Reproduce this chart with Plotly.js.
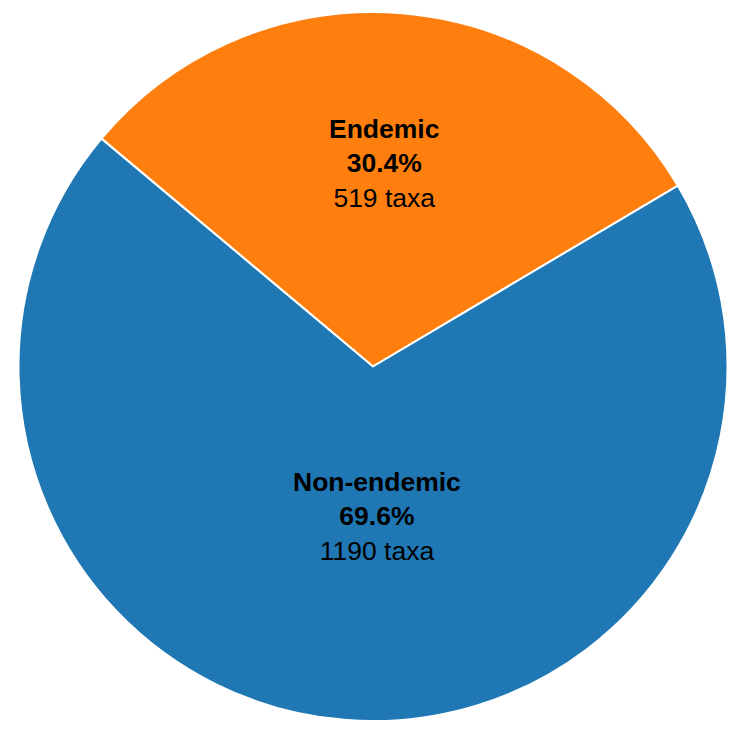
<!DOCTYPE html>
<html>
<head>
<meta charset="utf-8">
<script src="https://cdn.plot.ly/plotly-3.0.1.min.js"></script>
<style>
  html, body { margin: 0; padding: 0; background: white; }
  #chart { width: 742px; height: 742px; }
</style>
</head>
<body>
<div id="chart"></div>
<script>
// taxa counts per group
const groups = ['Endemic', 'Non-endemic'];
const taxaCounts = [519, 1190];
const sliceColors = ['#ff7f0e', '#1f77b4'];

// where the label block of each slice sits (paper coords)
const labelX = [0.5155, 0.5056];
const labelY = [0.786, 0.288];

const total = taxaCounts.reduce((a, b) => a + b, 0);

var trace = {
    type: 'pie',
    labels: groups,
    values: taxaCounts,
    sort: false,
    direction: 'clockwise',
    rotation: -50,
    marker: {
        colors: sliceColors,
        line: { color: 'white', width: 2 }
    },
    textinfo: 'none',
    hoverinfo: 'none'
};

// labels as annotations so they can sit where the original put them
var annotations = groups.map(function(g, i) {
    var pct = (100 * taxaCounts[i] / total).toFixed(1);
    return {
        xref: 'paper', yref: 'paper',
        x: labelX[i], y: labelY[i],
        xanchor: 'center', yanchor: 'middle',
        showarrow: false,
        align: 'center',
        text: '<b>' + g + '</b><br><b>' + pct + '%</b><br>' + taxaCounts[i] + ' taxa',
        font: { family: 'Liberation Sans, Arial, sans-serif', size: 26.5, color: 'black' }
    };
});

var layout = {
    width: 742,
    height: 742,
    margin: { l: 18, r: 14, t: 12, b: 21 },
    showlegend: false,
    paper_bgcolor: 'white',
    annotations: annotations
};

Plotly.newPlot('chart', [trace], layout, { staticPlot: true });
</script>
</body>
</html>
